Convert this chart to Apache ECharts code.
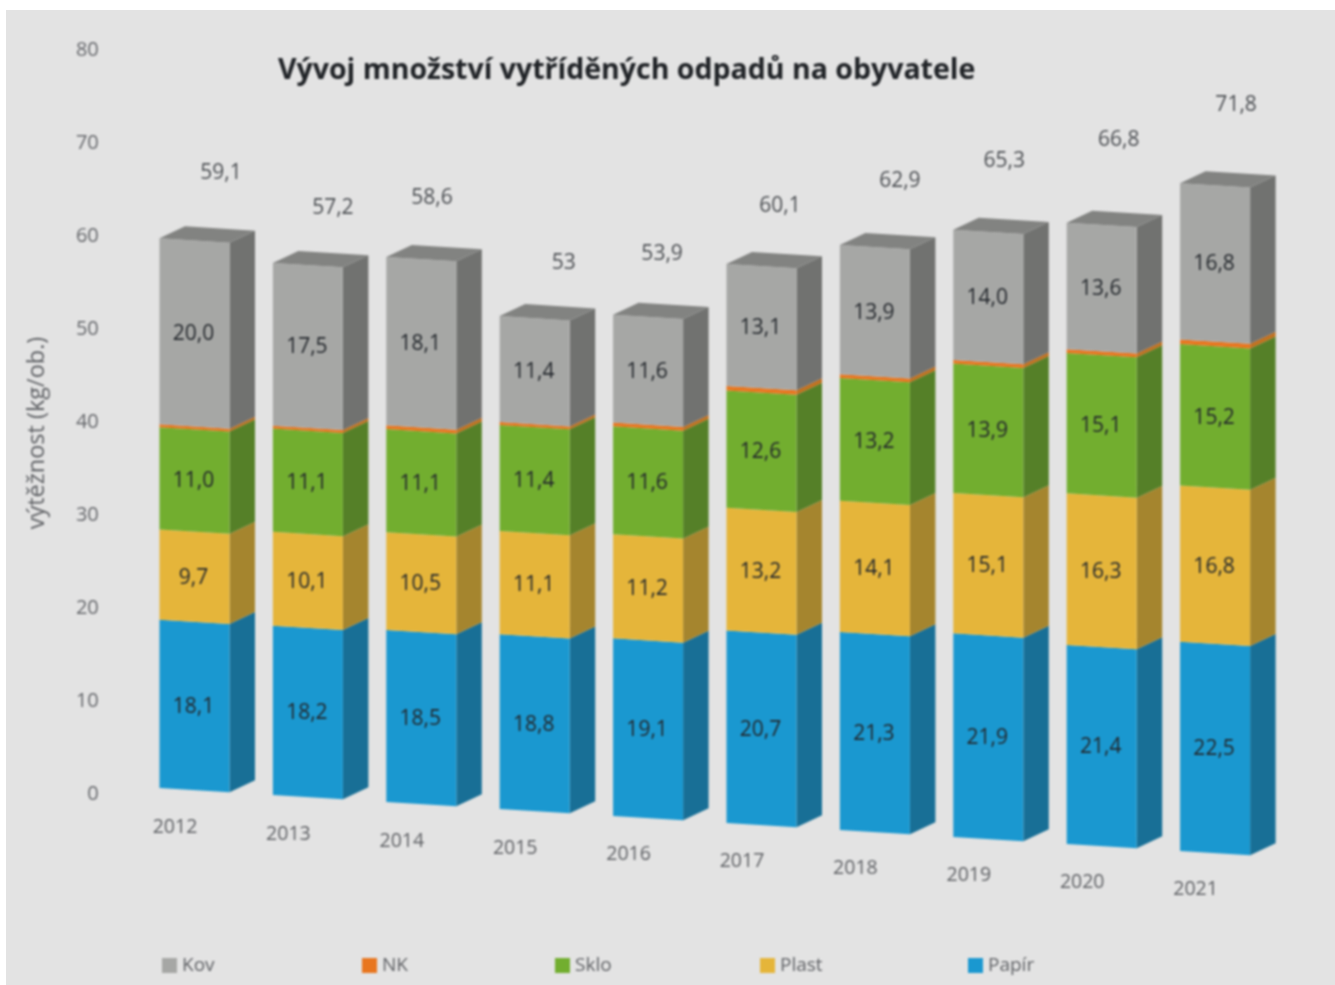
<!DOCTYPE html>
<html lang="cs">
<head>
<meta charset="utf-8">
<title>Vývoj množství vytříděných odpadů na obyvatele</title>
<style>
html,body{margin:0;padding:0;width:1335px;height:985px;background:#fff;overflow:hidden}
#bg{position:absolute;left:6px;top:10px;right:0;bottom:0;background:#e3e3e3}
#chart{position:absolute;left:0;top:0;width:1335px;height:985px;filter:blur(0.8px)}
</style>
<script src="https://cdn.jsdelivr.net/npm/echarts@6/dist/echarts.min.js"></script>
</head>
<body>
<div id="bg"></div>
<div id="chart"></div>
<script>
// ---- data ----
const years = ['2012','2013','2014','2015','2016','2017','2018','2019','2020','2021'];
const papir = [18.1,18.2,18.5,18.8,19.1,20.7,21.3,21.9,21.4,22.5];
const plast = [9.7,10.1,10.5,11.1,11.2,13.2,14.1,15.1,16.3,16.8];
const sklo  = [11.0,11.1,11.1,11.4,11.6,12.6,13.2,13.9,15.1,15.2];
const nk    = [0.3,0.3,0.4,0.3,0.4,0.5,0.4,0.4,0.4,0.5];
const kov   = [20.0,17.5,18.1,11.4,11.6,13.1,13.9,14.0,13.6,16.8];
const totals = [59.1,57.2,58.6,53,53.9,60.1,62.9,65.3,66.8,71.8];

// ---- layout of the hand-placed total labels (pixels relative to the bar top) ----
const totalLabelDx = [26.5,25,10.7,29,14,18.5,25,16,17,21];
const totalLabelDy = [-71,-54,-51,-38,-39,-29,-28,-26,-33,-21];

// ---- pseudo 3D look ----
const FRONT_W = 70, SIDE_DX = 25.5, SIDE_DY = -12;
const SHEAR = 0.0617, SHEAR_X0 = 159.5, SHEAR_Y0 = -6;
const FONT = '"Open Sans", "Noto Sans", sans-serif';
const skew = x => SHEAR_Y0 + (x - SHEAR_X0) * SHEAR;
const comma = v => v.toFixed(1).replace('.', ',');

const stackDefs = [
  {name:'Papír', values:papir, front:'#1a98d0', side:'#186f96', showLabel:true},
  {name:'Plast', values:plast, front:'#e5b53a', side:'#a5852e', showLabel:true},
  {name:'Sklo',  values:sklo,  front:'#72ae2f', side:'#558028', showLabel:true},
  {name:'NK',    values:nk,    front:'#e8761f', side:'#c2701e', showLabel:false},
  {name:'Kov',   values:kov,   front:'#a6a7a5', side:'#717270', top:'#828381', showLabel:true}
];

let base = years.map(() => 0);
const series = stackDefs.map(def => {
  const rows = years.map((y, i) => [i, base[i], base[i] + def.values[i], def.values[i]]);
  base = base.map((b, i) => b + def.values[i]);
  return {
    type:'custom', name:def.name, coordinateSystem:'cartesian2d',
    itemStyle:{color:def.front}, clip:false, silent:true,
    encode:{x:0, y:[1,2]},
    data:rows,
    renderItem(params, api){
      const i = api.value(0), lo = api.value(1), hi = api.value(2), val = api.value(3);
      const cx = api.coord([i, 0])[0];
      const xl = cx - FRONT_W / 2, xr = cx + FRONT_W / 2;
      const yLo = api.coord([i, lo])[1], yHi = api.coord([i, hi])[1];
      const bl = [xl, yLo + skew(xl)], br = [xr, yLo + skew(xr)];
      const tl = [xl, yHi + skew(xl)], tr = [xr, yHi + skew(xr)];
      const back = p => [p[0] + SIDE_DX, p[1] + SIDE_DY];
      const children = [
        {type:'polygon', shape:{points:[br, tr, back(tr), back(br)]}, style:{fill:def.side}},
        {type:'polygon', shape:{points:[bl, br, tr, tl]}, style:{fill:def.front}}
      ];
      if (def.top) children.push({type:'polygon', shape:{points:[tl, tr, back(tr), back(tl)]}, style:{fill:def.top}});
      if (def.showLabel) children.push({type:'text', style:{
        text:comma(val), x:cx - 1, y:(yLo + yHi) / 2 + skew(cx) + 0.8, align:'center', verticalAlign:'middle',
        fill:'#23272c', font:'21px ' + FONT}});
      return {type:'group', children};
    }
  };
});

// totals above the bars and slanted year labels
series.push({
  type:'custom', name:'Celkem', coordinateSystem:'cartesian2d', clip:false, silent:true,
  encode:{x:0, y:1},
  data:years.map((y, i) => [i, totals[i]]),
  renderItem(params, api){
    const i = api.value(0), t = api.value(1);
    const [cx, y0] = api.coord([i, 0]);
    const yt = api.coord([i, t])[1];
    return {type:'group', children:[
      {type:'text', style:{text:Number.isInteger(t) ? String(t) : comma(t),
        x:cx + totalLabelDx[i], y:yt + totalLabelDy[i], align:'center', verticalAlign:'middle',
        fill:'#4c4f53', font:'21px ' + FONT}},
      {type:'text', style:{text:years[i], x:cx - 19.5, y:y0 + 33.5 + 6.85 * i, align:'center', verticalAlign:'middle',
        fill:'#5f6165', font:'19.5px ' + FONT}}
    ]};
  }
});

const legendLeft = {'Kov':162,'NK':362,'Sklo':555,'Plast':760,'Papír':968};
const legends = Object.keys(legendLeft).map(n => ({
  data:[n], left:legendLeft[n], top:956, padding:0, itemWidth:15, itemHeight:15, itemGap:5, icon:'rect',
  selectedMode:false, textStyle:{color:'#5f6165', fontSize:19, fontFamily:FONT}
}));

const chart = echarts.init(document.getElementById('chart'), null, {renderer:'canvas'});
chart.setOption({
  animation:false,
  title:{text:'Vývoj množství vytříděných odpadů na obyvatele', left:273, top:51,
    textStyle:{fontFamily:FONT, fontSize:28.5, fontWeight:'bold', color:'#202327'}},
  legend:legends,
  grid:{left:137.8, right:63.2, top:50, bottom:191},
  xAxis:{type:'category', data:years, axisLine:{show:false}, axisTick:{show:false}, axisLabel:{show:false}, splitLine:{show:false}},
  yAxis:{type:'value', min:0, max:80, interval:10,
    name:'výtěžnost (kg/ob.)', nameLocation:'middle', nameGap:88,
    nameTextStyle:{color:'#5f6165', fontSize:23.5, fontFamily:FONT, padding:[0,22,0,0]},
    axisLine:{show:false}, axisTick:{show:false}, splitLine:{show:false},
    axisLabel:{color:'#65676b', fontSize:20, fontFamily:FONT, margin:39, align:'right', padding:[8,0,0,0]}},
  series
});
</script>
</body>
</html>
